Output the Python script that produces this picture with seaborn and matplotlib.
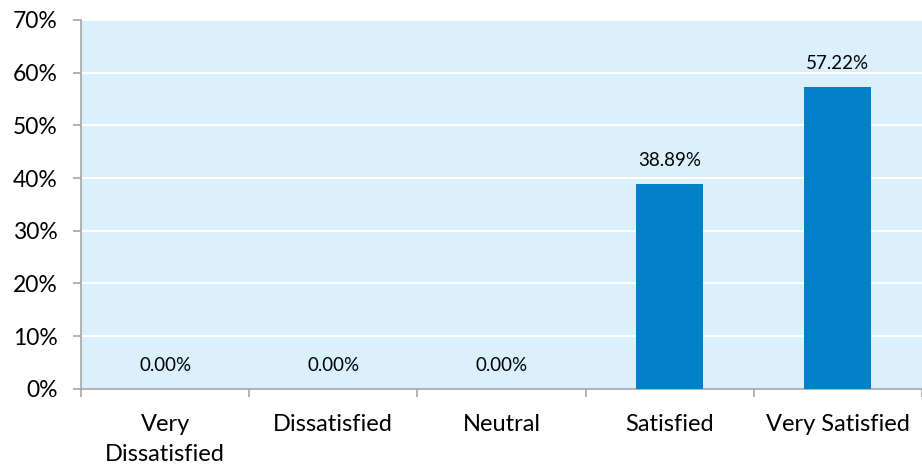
import numpy as np
import pandas as pd
import matplotlib
matplotlib.use("Agg")
import matplotlib.pyplot as plt
import seaborn as sns
from matplotlib.ticker import FixedLocator, PercentFormatter

categories = ["Very\nDissatisfied", "Dissatisfied", "Neutral", "Satisfied", "Very Satisfied"]
percent = [0.00, 0.00, 0.00, 38.89, 57.22]
y_ticks = [0, 10, 20, 30, 40, 50, 60, 70]

sns.set_theme(style="white")
plt.rcParams["font.family"] = ["Lato", "DejaVu Sans"]

bg = "#DAF0FC"
bar_color = "#0080C8"
axis_gray = "#A6A6A6"

df = pd.DataFrame({"category": categories, "percent": percent})

fig = plt.figure(figsize=(9.22, 4.72), dpi=100)
ax = fig.add_axes([0.0879, 0.176, 0.912, 0.782])
ax.set_facecolor(bg)

sns.barplot(data=df, x="category", y="percent", color=bar_color, width=0.4,
            saturation=1, linewidth=0, ax=ax, zorder=3)

ax.set_ylim(0, 70)
ax.set_xlim(-0.5, len(categories) - 0.5)
ax.yaxis.set_major_locator(FixedLocator(y_ticks))
ax.yaxis.set_major_formatter(PercentFormatter(decimals=0))
ax.grid(axis="y", color="white", linewidth=1.5, zorder=1)
ax.set_axisbelow(True)

for s in ["top", "right"]:
    ax.spines[s].set_visible(False)
for s in ["left", "bottom"]:
    ax.spines[s].set_color(axis_gray)
    ax.spines[s].set_linewidth(1.2)

ax.set_xlabel("")
ax.set_ylabel("")
ax.tick_params(axis="y", which="major", left=True, length=6, width=1.2,
               color=axis_gray, labelsize=16.5, labelcolor="black", pad=11)
ax.set_xticks(range(len(categories)))
ax.set_xticklabels(categories, linespacing=1.55)
ax.tick_params(axis="x", which="major", bottom=False, length=0,
               labelsize=17, labelcolor="black", pad=18)
ax.xaxis.set_minor_locator(FixedLocator(np.arange(-0.5, len(categories), 1.0)))
ax.tick_params(axis="x", which="minor", bottom=True, length=6, width=1.2,
               color=axis_gray)

for i, v in enumerate(percent):
    ax.annotate(f"{v:.2f}%", xy=(i, v), xytext=(0, 17), textcoords="offset points",
                ha="center", va="center", fontsize=13.5, color="black", zorder=4)

fig.savefig("out.png", dpi=100, facecolor="white")
